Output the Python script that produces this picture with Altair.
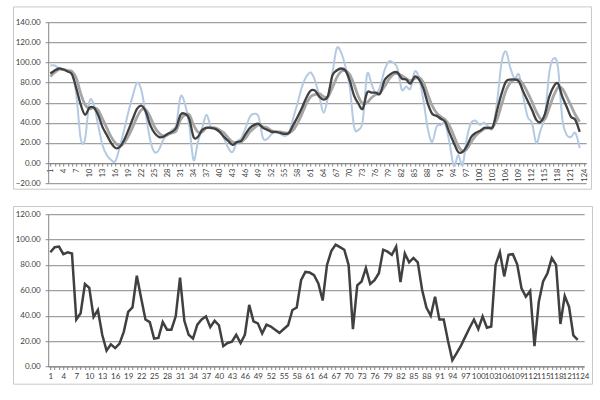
import altair as alt
import pandas as pd

# ---------------- data ----------------
idx = list(range(1, 124))

top_raw = [97, 97, 94, 93, 91, 89, 67, 24, 24, 61,
           58, 38, 18, 8, 3, 2, 16, 33, 51, 67,
           80, 72, 48, 23, 11, 13, 23, 28, 33, 38,
           66, 59, 38, 3, 21, 35, 48, 36, 35, 33,
           25, 15, 11, 21, 25, 35, 46, 49, 46, 25,
           24, 29, 31, 29, 27, 30, 45, 60, 76, 86,
           90, 82, 66, 50, 66, 89, 114, 110, 96, 76,
           36, 33, 42, 88, 79, 69, 76, 92, 101, 100,
           94, 73, 76, 74, 91, 84, 62, 34, 21, 36,
           38, 39, 20, -3, 8, -2, 25, 40, 42, 38,
           40, 36, 35, 62, 100, 111, 95, 84, 88, 66,
           46, 40, 20, 33, 47, 90, 104, 95, 44, 28,
           26, 30, 15]

top_fast = [89, 92, 94, 93, 91, 88, 74, 58, 48, 55,
            55, 48, 36, 28, 20, 15, 16, 23, 33, 44,
            54, 57, 51, 38, 30, 26, 26, 29, 31, 35,
            48, 49, 44, 26, 26, 33, 35, 35, 34, 31,
            26, 22, 18, 21, 22, 29, 35, 38, 39, 35,
            33, 31, 31, 30, 29, 30, 38, 46, 55, 65,
            72, 72, 66, 63, 67, 87, 92, 94, 92, 82,
            67, 59, 54, 70, 70, 70, 69, 82, 87, 90,
            90, 84, 83, 79, 86, 83, 74, 59, 49, 47,
            44, 41, 30, 20, 11, 11, 17, 26, 30, 32,
            35, 35, 36, 53, 69, 81, 83, 83, 81, 71,
            62, 53, 43, 41, 49, 66, 76, 79, 66, 56,
            46, 43, 31]

top_slow = [86, 90, 93, 93, 92, 91, 84, 69, 58, 54,
            55, 53, 44, 35, 26, 20, 17, 20, 27, 36,
            46, 53, 53, 46, 36, 30, 27, 28, 30, 32,
            43, 48, 48, 38, 31, 31, 35, 35, 35, 33,
            30, 25, 21, 20, 21, 25, 31, 35, 38, 36,
            35, 32, 31, 31, 30, 30, 33, 40, 49, 59,
            66, 68, 69, 66, 66, 75, 85, 91, 92, 88,
            78, 66, 59, 60, 65, 68, 70, 76, 83, 88,
            89, 87, 84, 82, 84, 85, 80, 68, 57, 50,
            46, 43, 37, 27, 17, 12, 14, 21, 27, 31,
            34, 35, 36, 44, 58, 72, 80, 83, 83, 78,
            70, 61, 51, 44, 44, 55, 67, 75, 74, 66,
            57, 48, 41]

bottom_vals = [90, 94, 94.5, 88.5, 90, 89, 37, 42, 65, 62,
               39, 44.5, 25, 12.5, 17.5, 14.5, 18, 27.5, 43, 46.5,
               71.5, 54, 37, 35, 22, 22.5, 35, 29, 29, 39.5,
               70, 36, 25, 22, 33, 37, 39.5, 31, 36, 32.5,
               16, 18.5, 19.5, 25, 18.5, 25, 48.5, 35.5, 34, 26,
               33, 31.5, 29, 26.5, 29.5, 32.5, 44.5, 46.5, 68, 74.5,
               74, 72, 65.5, 52, 80, 91, 96, 94, 92, 80,
               29.5, 64, 67, 77.5, 65, 68, 73.5, 92, 90.5, 88,
               94.5, 66.5, 89, 82, 85.5, 82, 60.5, 46.5, 40, 55,
               37, 37, 20, 5, 10.5, 16.5, 23.5, 30.5, 37, 29.5,
               39.5, 30.5, 31.5, 80, 90, 71, 88, 88.5, 80.5, 61.5,
               55, 59.5, 16, 51, 67, 73.5, 85.5, 80, 33.5, 55.5,
               47, 24.5, 21]

x_ticks = list(range(1, 125))
top_y_ticks = [-20, 0, 20, 40, 60, 80, 100, 120, 140]
bottom_y_ticks = [0, 20, 40, 60, 80, 100, 120]

FONT = "Lato"
LABEL_COLOR = "#404040"
AXIS_COLOR = "#868686"
GRID_COLOR = "#a0a0a0"
BORDER_COLOR = "#c8c8c8"

top_df = pd.DataFrame({"i": idx, "raw": top_raw, "fast": top_fast, "slow": top_slow})
bot_df = pd.DataFrame({"i": idx, "v": bottom_vals})

label_expr = "(datum.value - 1) % 3 == 0 ? datum.label : ''"

# ---------------- top chart ----------------
TW, TH = 538, 161
top_x = alt.X(
    "i:Q",
    scale=alt.Scale(domain=[0.5, 124.5], nice=False, zero=False),
    axis=alt.Axis(values=x_ticks, labelExpr=label_expr, labelAngle=270,
                  offset=-20.1, tickSize=3, grid=False, title=None,
                  labelFontSize=7.5, labelColor=LABEL_COLOR, labelFont=FONT,
                  labelPadding=2, labelOverlap=False, labelFlush=False,
                  domainColor=AXIS_COLOR, tickColor=AXIS_COLOR, format="d"),
)
top_y_scale = alt.Scale(domain=[-20, 140], nice=False, zero=False)
top_y_axis = alt.Axis(values=top_y_ticks, format=".2f", title=None, grid=True,
                      gridColor=GRID_COLOR, gridWidth=1.2, tickSize=3,
                      tickColor=AXIS_COLOR, domainColor=AXIS_COLOR,
                      labelFontSize=8, labelColor=LABEL_COLOR, labelFont=FONT,
                      labelPadding=5)

top_border = alt.Chart(pd.DataFrame({"a": [0]})).mark_rect(
    filled=False, stroke=BORDER_COLOR, strokeWidth=1
).encode(x=alt.value(-34.7), x2=alt.value(543.3), y=alt.value(-15.3), y2=alt.value(167))

top_base = alt.Chart(top_df)
raw_line = top_base.mark_line(color="#b4cae3", strokeWidth=2.0, interpolate="cardinal").encode(
    x=top_x, y=alt.Y("raw:Q", scale=top_y_scale, axis=top_y_axis))
slow_line = top_base.mark_line(color="#a6a6a6", strokeWidth=2.8, interpolate="cardinal").encode(
    x=top_x, y=alt.Y("slow:Q", scale=top_y_scale, axis=top_y_axis))
fast_line = top_base.mark_line(color="#404040", strokeWidth=2.3, interpolate="cardinal").encode(
    x=top_x, y=alt.Y("fast:Q", scale=top_y_scale, axis=top_y_axis))

top_chart = alt.layer(top_border, raw_line, slow_line, fast_line).properties(width=TW, height=TH)

# ---------------- bottom chart ----------------
BW, BH = 536, 152.3
bot_x = alt.X(
    "i:Q",
    scale=alt.Scale(domain=[0.5, 124.5], nice=False, zero=False),
    axis=alt.Axis(values=x_ticks, labelExpr=label_expr, labelAngle=0,
                  tickSize=3, grid=False, title=None,
                  labelFontSize=8, labelColor=LABEL_COLOR, labelFont=FONT,
                  labelPadding=3, labelOverlap=False, labelFlush=False,
                  domainColor=AXIS_COLOR, tickColor=AXIS_COLOR, format="d"),
)
bot_y = alt.Y("v:Q", scale=alt.Scale(domain=[0, 120], nice=False, zero=False),
              axis=alt.Axis(values=bottom_y_ticks, format=".2f", title=None, grid=True,
                            gridColor=GRID_COLOR, gridWidth=1.2, tickSize=3,
                            tickColor=AXIS_COLOR, domainColor=AXIS_COLOR,
                            labelFontSize=8, labelColor=LABEL_COLOR, labelFont=FONT,
                            labelPadding=5))

bot_border = alt.Chart(pd.DataFrame({"a": [0]})).mark_rect(
    filled=False, stroke=BORDER_COLOR, strokeWidth=1
).encode(x=alt.value(-34.7), x2=alt.value(544.3), y=alt.value(-7.7), y2=alt.value(170))

bot_line = alt.Chart(bot_df).mark_line(color="#404040", strokeWidth=2.5).encode(x=bot_x, y=bot_y)

bottom_chart = alt.layer(bot_border, bot_line).properties(width=BW, height=BH)

chart = alt.vconcat(top_chart, bottom_chart, spacing=15).properties(
    padding={"left": 12.2, "top": 6.2, "right": 4, "bottom": 4},
    background="white",
).configure_view(strokeWidth=0)

chart.save("out.html", embed_options={"renderer": "svg", "actions": False})
